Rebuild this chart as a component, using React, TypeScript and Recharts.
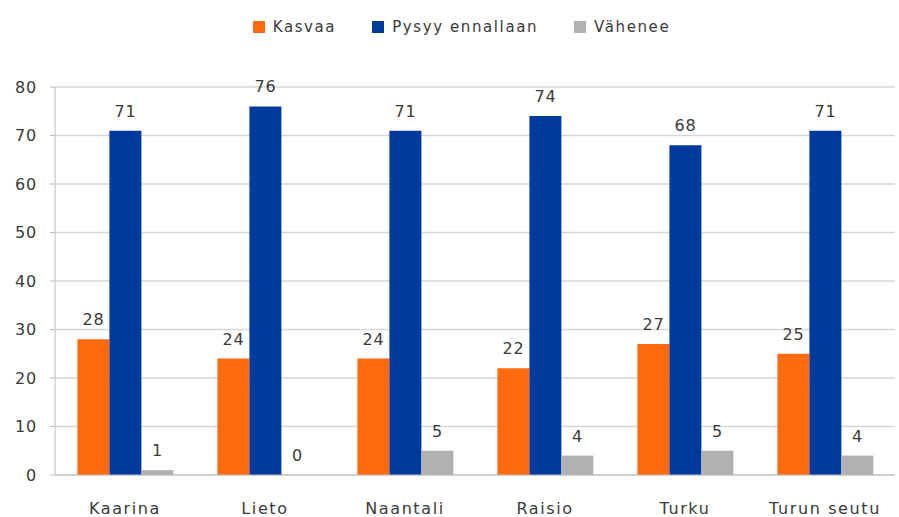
import React from 'react';
import { BarChart, Bar, XAxis, YAxis, CartesianGrid, Legend, LabelList } from 'recharts';

const categories = ['Kaarina', 'Lieto', 'Naantali', 'Raisio', 'Turku', 'Turun seutu'];
const kasvaa = [28, 24, 24, 22, 27, 25];
const pysyy = [71, 76, 71, 74, 68, 71];
const vahenee = [1, 0, 5, 4, 5, 4];
const yTicks = [0, 10, 20, 30, 40, 50, 60, 70, 80];

const data = categories.map((c, i) => ({
  name: c,
  Kasvaa: kasvaa[i],
  'Pysyy ennallaan': pysyy[i],
  'Vähenee': vahenee[i],
}));

const font = 'DejaVu Sans, sans-serif';
const textColor = '#3a3a3a';

const renderLabel = (props: any) => {
  const { x, y, width, height, value } = props;
  const top = Number(y) + (Number(height) < 0 ? Number(height) : 0);
  return (
    <text
      x={Number(x) + Number(width) / 2}
      y={(Number(value) === 0 ? Number(y) + Number(height) : top) - 14}
      textAnchor="middle"
      fill={textColor}
      fontSize={16}
      fontFamily={font}
      letterSpacing={0.8}
    >
      {value}
    </text>
  );
};

const makeShape = (key: string) => (props: any) => {
  const { x, y, width, height, fill, payload } = props;
  if (payload && Number(payload[key]) === 0) return <g />;
  return <rect x={x} y={y} width={width} height={height} fill={fill} />;
};

const renderLegend = (props: any) => {
  const { payload } = props;
  return (
    <div style={{ display: 'flex', justifyContent: 'center', paddingLeft: 24, fontFamily: font, fontSize: 15 }}>
      {payload.map((p: any, i: number) => (
        <div key={i} style={{ display: 'flex', alignItems: 'center', marginRight: i < payload.length - 1 ? 36 : 0 }}>
          <div style={{ width: 12, height: 12, background: p.color, marginRight: 8 }} />
          <span style={{ color: textColor, letterSpacing: 1.6 }}>{p.value}</span>
        </div>
      ))}
    </div>
  );
};

export default function App() {
  return (
    <div style={{ position: 'absolute', left: 0, top: 0, background: '#fff' }}>
      <BarChart
        width={899}
        height={517}
        data={data}
        margin={{ top: 10, right: 4, bottom: 8, left: 0 }}
        barCategoryGap="16%"
        barGap={0}
      >
        <CartesianGrid vertical={false} stroke="#d6d6d6" strokeWidth={1.5} />
        <XAxis
          dataKey="name"
          axisLine={{ stroke: '#bdbdbd' }}
          tickLine={false}
          tickMargin={22}
          height={34}
          tick={{ fill: textColor, fontSize: 16, fontFamily: font, letterSpacing: 1.6 }}
        />
        <YAxis
          domain={[0, 80]}
          ticks={yTicks}
          width={55}
          axisLine={{ stroke: '#bdbdbd' }}
          tickLine={{ stroke: '#bdbdbd' }}
          tickSize={5}
          tickMargin={13}
          tick={{ fill: textColor, fontSize: 16, fontFamily: font, letterSpacing: 0.8 }}
        />
        <Legend
          verticalAlign="top"
          align="center"
          height={77}
          wrapperStyle={{ top: 18, left: 0, width: 899 }}
          content={renderLegend}
        />
        <Bar dataKey="Kasvaa" fill="#ff6a0f" isAnimationActive={false}>
          <LabelList dataKey="Kasvaa" content={renderLabel} />
        </Bar>
        <Bar dataKey="Pysyy ennallaan" fill="#003a9c" isAnimationActive={false}>
          <LabelList dataKey="Pysyy ennallaan" content={renderLabel} />
        </Bar>
        <Bar dataKey="Vähenee" fill="#b1b1b3" isAnimationActive={false} minPointSize={1} shape={makeShape('Vähenee')}>
          <LabelList dataKey="Vähenee" content={renderLabel} />
        </Bar>
      </BarChart>
    </div>
  );
}
